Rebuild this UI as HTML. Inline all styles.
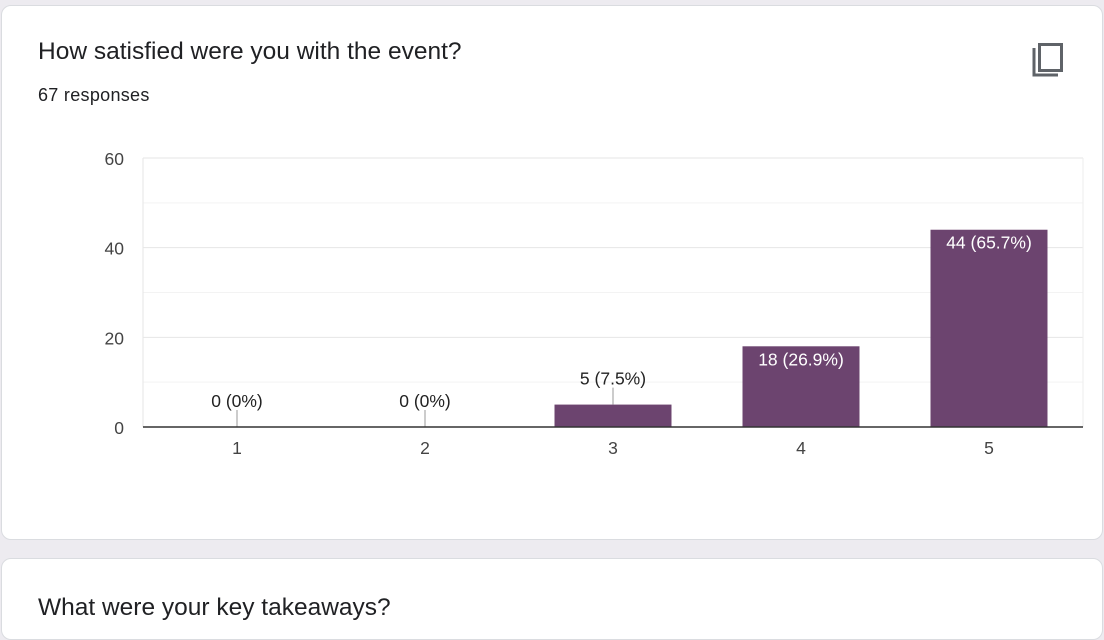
<!DOCTYPE html>
<html><head><meta charset="utf-8"><style>
body{margin:0;width:1104px;height:621px;background:#edebf0;font-family:"Liberation Sans",Arial,sans-serif;overflow:hidden;position:relative}
.card{position:absolute;background:#fff;border:1px solid #dadce0;border-radius:10px}
.t{position:absolute;color:#202124;white-space:nowrap}
</style></head><body>
<div class="card" style="left:1px;top:5px;width:1100px;height:533px"></div>
<div class="t" style="left:38px;top:38px;font-size:24.5px">How satisfied were you with the event?</div>
<div class="t" style="left:38px;top:85px;font-size:18px;letter-spacing:0.3px">67 responses</div>
<svg style="position:absolute;left:1030px;top:40px" width="36" height="40" viewBox="0 0 36 40">
<path d="M4 8 V35 H28" fill="none" stroke="#5f6368" stroke-width="3"/>
<rect x="9.5" y="4.5" width="22" height="26" fill="none" stroke="#5f6368" stroke-width="3"/>
</svg>
<svg id="chart" style="position:absolute;left:0;top:0" width="1104" height="540"></svg>
<div class="card" style="left:1px;top:558px;width:1100px;height:80px"></div>
<div class="t" style="left:38px;top:594px;font-size:24.5px">What were your key takeaways?</div>
<script>
const categories=["1","2","3","4","5"];
const values=[0,0,5,18,44];
const labels=["0 (0%)","0 (0%)","5 (7.5%)","18 (26.9%)","44 (65.7%)"];
const yTicks=[0,20,40,60];
const yMinor=[10,30,50];
const NS="http://www.w3.org/2000/svg";
const svg=document.getElementById('chart');
const X0=143,X1=1083,Y0=427,Y1=158,YMAX=60;
const y=v=>Y0-(v/YMAX)*(Y0-Y1);
const bw=(X1-X0)/categories.length;
const xc=i=>X0+bw*(i+0.5);
function mk(t,a){const e=document.createElementNS(NS,t);for(const k in a)e.setAttribute(k,a[k]);svg.appendChild(e);return e;}
yMinor.forEach(v=>{const l=mk('line',{x1:X0,x2:X1,y1:y(v),y2:y(v),stroke:'#f3f3f3'});

});
yTicks.forEach(v=>{if(v>0){const l=mk('line',{x1:X0,x2:X1,y1:y(v),y2:y(v),stroke:'#e6e6e6'});

}
const t=mk('text',{x:124,y:y(v)+7,'text-anchor':'end','font-size':17.5,fill:'#444'});t.textContent=v;

});
const lf=mk('line',{x1:X0,x2:X0,y1:Y1,y2:Y0,stroke:'#e6e6e6'});


const rf=mk('line',{x1:X1,x2:X1,y1:Y1,y2:Y0,stroke:'#eeeeee'});


categories.forEach((c,i)=>{
 const cx=xc(i),top=y(values[i]),h=Y0-top,w=117;
 if(h>0){const r=mk('rect',{x:cx-w/2,y:top,width:w,height:h,fill:'#6c446f'});
 
 }
 let lab;
 if(h>40){lab=mk('text',{x:cx,y:top+19,'text-anchor':'middle','font-size':17.5,fill:'#fff'});}
 else{const ly=top-20;
  const s=mk('line',{x1:cx,x2:cx,y1:top,y2:ly+3,stroke:'#999'});
  
  
  lab=mk('text',{x:cx,y:ly,'text-anchor':'middle','font-size':17.5,fill:'#222'});}
 lab.textContent=labels[i];
 
 
 const t=mk('text',{x:cx,y:Y0+27,'text-anchor':'middle','font-size':17.5,fill:'#444'});t.textContent=c;
 
 
});
const ax=mk('line',{x1:X0,x2:X1,y1:Y0,y2:Y0,stroke:'#333','stroke-width':1.5});


</script>
</body></html>
